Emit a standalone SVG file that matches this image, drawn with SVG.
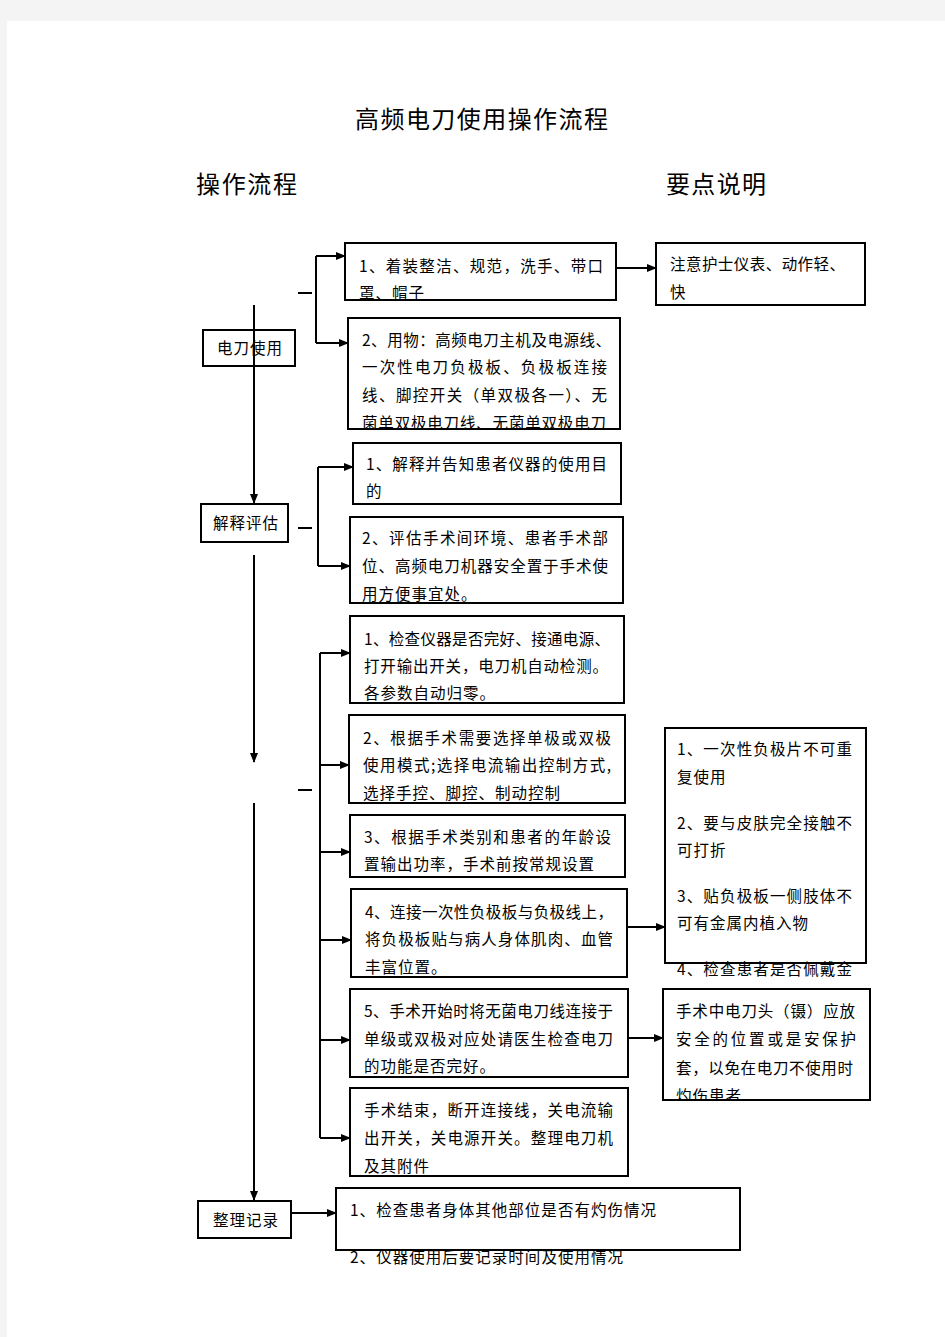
<svg xmlns="http://www.w3.org/2000/svg" width="945" height="1337" viewBox="0 0 945 1337">
<style>
.box{fill:#fff;stroke:#000;stroke-width:2}
.t{font-family:"Noto Sans CJK SC","Noto Sans CJK TC",sans-serif;font-size:15.5px;fill:#000;letter-spacing:1px}
.h{font-family:"Liberation Serif","Noto Sans CJK SC",serif;font-size:24px;fill:#000}
.ln{stroke:#000;stroke-width:2;fill:none}
.ar{stroke:#000;stroke-width:2;fill:none;marker-end:url(#ah)}
</style>
<defs>
<marker id="ah" markerUnits="userSpaceOnUse" markerWidth="10" markerHeight="8" refX="9" refY="4" orient="auto">
<path d="M0,0 L10,4 L0,8 Z" fill="#000"/>
</marker>
<clipPath id="cA1"><rect x="345" y="243" width="271" height="57"/></clipPath>
<clipPath id="cA2"><rect x="348" y="318" width="272" height="111"/></clipPath>
<clipPath id="cB2"><rect x="350" y="517" width="273" height="85"/></clipPath>
<clipPath id="cC2"><rect x="349" y="715" width="276" height="87"/></clipPath>
<clipPath id="cC6"><rect x="350" y="1088" width="278" height="87"/></clipPath>
<clipPath id="cR4"><rect x="663" y="989" width="207" height="110"/></clipPath>
</defs>
<rect x="0" y="0" width="945" height="1337" fill="#f4f4f4"/>
<rect x="7" y="21" width="938" height="1316" fill="#fff"/>

<g id="titles">
<text class="h" x="355" y="128" textLength="253" lengthAdjust="spacing">高频电刀使用操作流程</text>
<text class="h" x="196" y="193" textLength="101" lengthAdjust="spacing">操作流程</text>
<text class="h" x="666" y="193" textLength="100" lengthAdjust="spacing">要点说明</text>
</g>

<g id="n-diandao">
<rect class="box" x="203" y="330" width="92" height="36"/>
<text class="t" x="250" y="354" text-anchor="middle">电刀使用</text>
</g>
<g id="n-jieshi">
<rect class="box" x="201" y="504" width="87" height="38"/>
<text class="t" x="246" y="529" text-anchor="middle">解释评估</text>
</g>
<g id="n-zhengli">
<rect class="box" x="198" y="1201" width="93" height="37"/>
<text class="t" x="246" y="1226" text-anchor="middle">整理记录</text>
</g>

<g id="n-a1">
<rect class="box" x="345" y="243" width="271" height="57"/>
<g clip-path="url(#cA1)">
<text class="t" x="359" y="272" textLength="245" lengthAdjust="spacing">1、着装整洁、规范，洗手、带口</text>
<text class="t" x="359" y="299">罩、帽子</text>
</g>
</g>
<g id="n-r1">
<rect class="box" x="656" y="243" width="209" height="62"/>
<text class="t" x="670" y="270" textLength="176" lengthAdjust="spacing">注意护士仪表、动作轻、</text>
<text class="t" x="670" y="298">快</text>
</g>
<g id="n-a2">
<rect class="box" x="348" y="318" width="272" height="111"/>
<g clip-path="url(#cA2)">
<text class="t" x="362" y="346" textLength="250" lengthAdjust="spacing">2、用物：高频电刀主机及电源线、</text>
<text class="t" x="362" y="373" textLength="246" lengthAdjust="spacing">一次性电刀负极板、负极板连接</text>
<text class="t" x="362" y="401" textLength="246" lengthAdjust="spacing">线、脚控开关（单双极各一）、无</text>
<text class="t" x="362" y="429" textLength="245" lengthAdjust="spacing">菌单双极电刀线、无菌单双极电刀</text>
</g>
</g>
<g id="n-b1">
<rect class="box" x="353" y="443" width="268" height="61"/>
<text class="t" x="366" y="470" textLength="242" lengthAdjust="spacing">1、解释并告知患者仪器的使用目</text>
<text class="t" x="366" y="497">的</text>
</g>
<g id="n-b2">
<rect class="box" x="350" y="517" width="273" height="86"/>
<g clip-path="url(#cB2)">
<text class="t" x="362" y="544" textLength="247" lengthAdjust="spacing">2、评估手术间环境、患者手术部</text>
<text class="t" x="362" y="572" textLength="247" lengthAdjust="spacing">位、高频电刀机器安全置于手术使</text>
<text class="t" x="362" y="600">用方便事宜处。</text>
</g>
</g>
<g id="n-c1">
<rect class="box" x="350" y="616" width="274" height="87"/>
<text class="t" x="364" y="645" textLength="247" lengthAdjust="spacing">1、检查仪器是否完好、接通电源、</text>
<text class="t" x="364" y="672" textLength="245" lengthAdjust="spacing">打开输出开关，电刀机自动检测。</text>
<text class="t" x="364" y="699">各参数自动归零。</text>
</g>
<g id="n-c2">
<rect class="box" x="349" y="715" width="276" height="88"/>
<g clip-path="url(#cC2)">
<text class="t" x="363" y="744" textLength="249" lengthAdjust="spacing">2、根据手术需要选择单极或双极</text>
<text class="t" x="363" y="771" textLength="249" lengthAdjust="spacing">使用模式;选择电流输出控制方式,</text>
<text class="t" x="363" y="799">选择手控、脚控、制动控制</text>
</g>
</g>
<g id="n-c3">
<rect class="box" x="350" y="815" width="275" height="62"/>
<text class="t" x="364" y="843" textLength="248" lengthAdjust="spacing">3、根据手术类别和患者的年龄设</text>
<text class="t" x="364" y="870">置输出功率，手术前按常规设置</text>
</g>
<g id="n-c4">
<rect class="box" x="351" y="889" width="276" height="88"/>
<text class="t" x="365" y="918" textLength="249" lengthAdjust="spacing">4、连接一次性负极板与负极线上，</text>
<text class="t" x="365" y="945" textLength="249" lengthAdjust="spacing">将负极板贴与病人身体肌肉、血管</text>
<text class="t" x="365" y="973">丰富位置。</text>
</g>
<g id="n-c5">
<rect class="box" x="350" y="989" width="278" height="88"/>
<text class="t" x="364" y="1017" textLength="250" lengthAdjust="spacing">5、手术开始时将无菌电刀线连接于</text>
<text class="t" x="364" y="1045" textLength="250" lengthAdjust="spacing">单级或双极对应处请医生检查电刀</text>
<text class="t" x="364" y="1072">的功能是否完好。</text>
</g>
<g id="n-c6">
<rect class="box" x="350" y="1088" width="278" height="88"/>
<g clip-path="url(#cC6)">
<text class="t" x="364" y="1116" textLength="250" lengthAdjust="spacing">手术结束，断开连接线，关电流输</text>
<text class="t" x="364" y="1144" textLength="250" lengthAdjust="spacing">出开关，关电源开关。整理电刀机</text>
<text class="t" x="364" y="1172">及其附件</text>
</g>
</g>
<g id="n-r3">
<rect class="box" x="665" y="728" width="201" height="235"/>
<text class="t" x="677" y="755" textLength="176" lengthAdjust="spacing">1、一次性负极片不可重</text>
<text class="t" x="677" y="783">复使用</text>
<text class="t" x="677" y="829" textLength="176" lengthAdjust="spacing">2、要与皮肤完全接触不</text>
<text class="t" x="677" y="856">可打折</text>
<text class="t" x="677" y="902" textLength="176" lengthAdjust="spacing">3、贴负极板一侧肢体不</text>
<text class="t" x="677" y="929">可有金属内植入物</text>
<text class="t" x="677" y="975" textLength="176" lengthAdjust="spacing">4、检查患者是否佩戴金</text>
</g>
<g id="n-r4">
<rect class="box" x="663" y="989" width="207" height="111"/>
<g clip-path="url(#cR4)">
<text class="t" x="676" y="1017" textLength="180" lengthAdjust="spacing">手术中电刀头（镊）应放</text>
<text class="t" x="676" y="1045" textLength="181" lengthAdjust="spacing">安全的位置或是安保护</text>
<text class="t" x="676" y="1074" textLength="178" lengthAdjust="spacing">套，以免在电刀不使用时</text>
<text class="t" x="676" y="1102">灼伤患者</text>
</g>
</g>
<g id="n-d">
<rect class="box" x="336" y="1188" width="404" height="62"/>
<text class="t" x="350" y="1216" textLength="307" lengthAdjust="spacing">1、检查患者身体其他部位是否有灼伤情况</text>
<text class="t" x="350" y="1263" textLength="274" lengthAdjust="spacing">2、仪器使用后要记录时间及使用情况</text>
</g>

<g id="connectors">
<path class="ar" d="M254,305 V503"/>
<path class="ar" d="M254,555 V762"/>
<path class="ar" d="M254,803 V1200"/>
<path class="ln" d="M298,293 H312"/>
<path class="ln" d="M298,528 H312"/>
<path class="ln" d="M298,790 H312"/>
<path class="ln" d="M316,256 V343"/>
<path class="ar" d="M316,256 H345"/>
<path class="ar" d="M316,343 H348"/>
<path class="ln" d="M318,467 V566"/>
<path class="ar" d="M318,467 H353"/>
<path class="ar" d="M318,566 H350"/>
<path class="ln" d="M320,653 V1138"/>
<path class="ar" d="M320,653 H350"/>
<path class="ar" d="M320,765 H349"/>
<path class="ar" d="M320,852 H350"/>
<path class="ar" d="M320,940 H351"/>
<path class="ar" d="M320,1040 H350"/>
<path class="ar" d="M320,1138 H350"/>
<path class="ar" d="M616,268 H656"/>
<path class="ar" d="M627,927 H665"/>
<path class="ar" d="M628,1038 H663"/>
<path class="ar" d="M291,1213 H336"/>
</g>
</svg>
